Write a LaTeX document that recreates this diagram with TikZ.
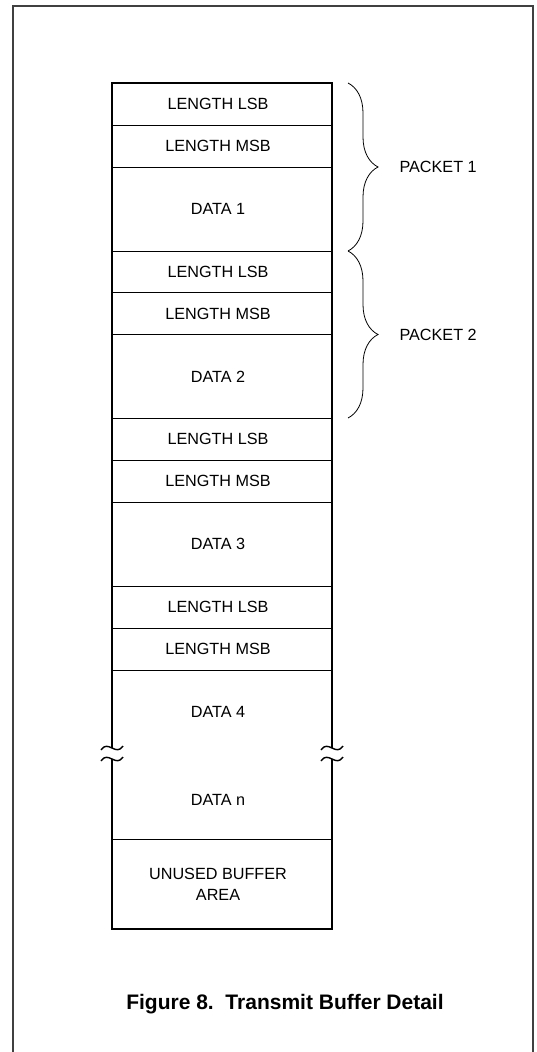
\documentclass[tikz,border=0pt]{standalone}
\usepackage{fontspec}
\setmainfont{Liberation Sans}
\usetikzlibrary{decorations.pathreplacing}

\begin{document}
\begin{tikzpicture}[x=1pt,y=-1pt,
    cell/.style={font=\fontsize{16.2}{21}\selectfont, align=center},
    rowline/.style={line width=0.8pt},
    outline/.style={line width=1.8pt},
    packetbrace/.style={decorate, decoration={brace,amplitude=30pt}, line width=0.8pt}]
    \useasboundingbox (0,0) rectangle (536,1052);

    % page frame, open at the bottom
    \draw[line width=1.2pt, black!75] (13,1052) -- (13,6) -- (533,6) -- (533,1052);

    % buffer outline, broken on both sides
    \draw[outline] (112,748) -- (112,83) -- (332,83) -- (332,748);
    \draw[outline] (112,759) -- (112,929) -- (332,929) -- (332,759);
    \foreach \x in {112,332}
        \foreach \y in {748,759}
            \draw[line width=1.4pt] (\x-11,\y+2) .. controls (\x-4,\y-9) and (\x+4,\y+9) .. (\x+11,\y-2);

    \foreach \y in {125,167,251,292,334,418,460,502,586,628,670,839}
        \draw[rowline] (112,\y) -- (332,\y);

    % packet cells
    \foreach \n/\y in {1/83,2/251,3/418,4/586} {
        \node[cell] (lsb\n) at (218,\y+21) {LENGTH LSB};
        \node[cell] (msb\n) at (218,\y+63) {LENGTH MSB};
        \node[cell] (data\n) at (218,\y+126) {DATA \n};
    }
    \node[cell] (datan) at (218,800) {DATA n};
    \node[cell] (unused) at (218,884) {UNUSED BUFFER\\AREA};

    % packets
    \draw[packetbrace] (348,83) -- (348,251);
    \draw[packetbrace] (348,251) -- (348,418);
    \node[cell, anchor=west] (pkt1) at (396,167) {PACKET 1};
    \node[cell, anchor=west] (pkt2) at (396,335) {PACKET 2};

    \node[font=\bfseries\fontsize{21}{25}\selectfont] (caption) at (285,1004) {Figure 8.\ \ Transmit Buffer Detail};
\end{tikzpicture}
\end{document}
